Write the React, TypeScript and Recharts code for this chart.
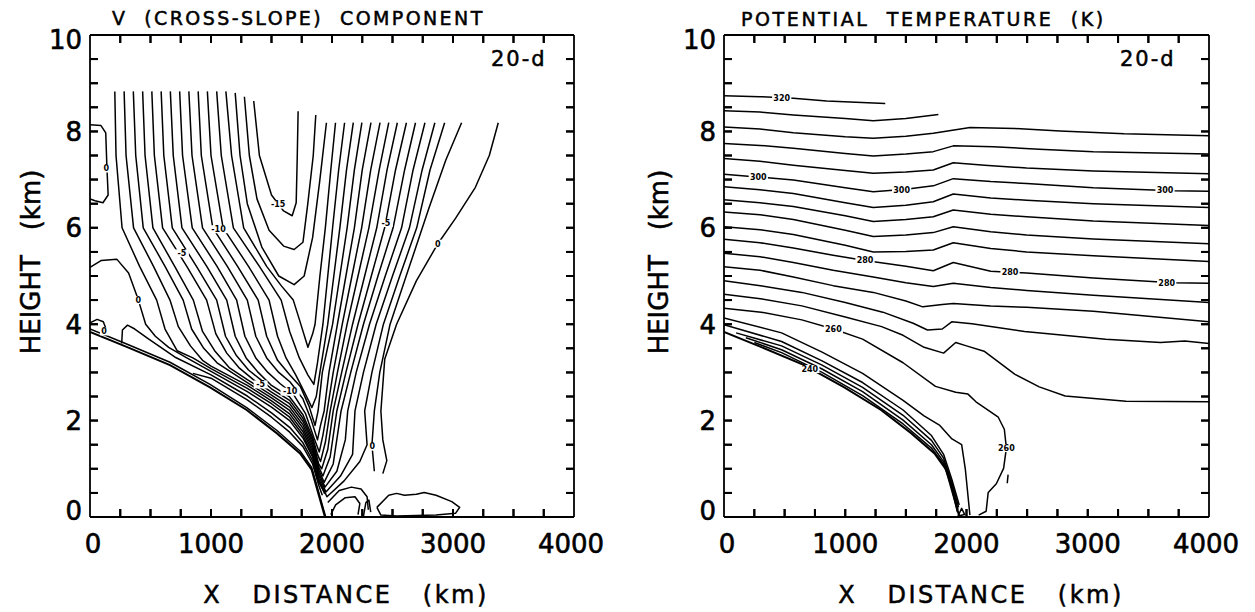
import React from 'react';
import { LineChart, Line, XAxis, YAxis, ReferenceDot } from 'recharts';

type Pt = [number, number];
type Lab = [number, number, string];

const FONT = '"DejaVu Sans", sans-serif';
const INK = '#000';

// axis values: ticks every 250 km / 0.5 km, labels every 1000 km / 2 km
const xTicks = [0, 250, 500, 750, 1000, 1250, 1500, 1750, 2000, 2250, 2500, 2750, 3000, 3250, 3500, 3750, 4000];
const yTicks = [0, 0.5, 1, 1.5, 2, 2.5, 3, 3.5, 4, 4.5, 5, 5.5, 6, 6.5, 7, 7.5, 8, 8.5, 9, 9.5, 10];
const xLabelEvery = 1000;
const yLabelEvery = 2;

// lower boundary (slope), same in both panels
const terrain: Pt[] = [[0, 3.84], [303, 3.53], [661, 3.15], [992, 2.69], [1295, 2.22], [1543, 1.74], [1736, 1.32], [1832, 0.98], [1887, 0.49], [1942, 0]];

// ---- V (cross-slope) component, contours ----
const vFan: Pt[][] = [
  [[205, 8.83], [215, 7.5], [265, 6.0], [410, 5.2], [551, 4.5], [620, 3.9], [720, 3.45], [850, 3.3], [1000, 3.08], [1300, 2.67], [1500, 2.35], [1650, 2.07], [1760, 1.7], [1840, 1.29], [1890, 0.8], [1958, 0.42], [2100, 0.75], [2230, 1.15], [2290, 1.5], [2270, 2.2], [2330, 3.0], [2425, 4.0], [2560, 5.0], [2700, 6.0], [2810, 7.2], [2931, 8.18]],
  [[282, 8.83], [298, 7.5], [360, 6.0], [525, 5.2], [661, 4.5], [730, 3.95], [830, 3.55], [930, 3.25], [1000, 3.13], [1300, 2.73], [1500, 2.41], [1650, 2.14], [1760, 1.77], [1840, 1.35], [1890, 0.86], [1950, 0.52], [2070, 0.85], [2170, 1.3], [2190, 2.2], [2260, 3.0], [2365, 4.0], [2500, 5.0], [2640, 6.0], [2745, 7.2], [2850, 8.18]],
  [[358, 8.83], [378, 7.5], [440, 6.0], [620, 5.2], [770, 4.5], [840, 3.9], [940, 3.5], [1050, 3.2], [1300, 2.79], [1500, 2.47], [1650, 2.21], [1760, 1.84], [1840, 1.41], [1890, 0.92], [1942, 0.62], [2040, 0.95], [2110, 1.6], [2130, 2.2], [2200, 3.0], [2310, 4.0], [2440, 5.0], [2575, 6.0], [2670, 7.2], [2768, 8.18]],
  [[435, 8.83], [455, 7.5], [520, 6.0], [700, 5.2], [854, 4.5], [930, 3.85], [1030, 3.45], [1150, 3.1], [1300, 2.85], [1500, 2.53], [1650, 2.28], [1760, 1.91], [1840, 1.47], [1890, 0.98], [1935, 0.72], [2010, 1.1], [2075, 2.2], [2155, 3.0], [2260, 4.0], [2380, 5.0], [2505, 6.0], [2600, 7.2], [2690, 8.18]],
  [[511, 8.83], [532, 7.5], [600, 6.0], [800, 5.2], [964, 4.5], [1040, 3.8], [1130, 3.4], [1230, 3.1], [1350, 2.85], [1500, 2.59], [1650, 2.35], [1760, 1.98], [1840, 1.53], [1890, 1.04], [1925, 0.85], [1985, 1.25], [2040, 2.2], [2115, 3.0], [2215, 4.0], [2325, 5.0], [2435, 6.0], [2525, 7.2], [2615, 8.18]],
  [[588, 8.83], [610, 7.5], [680, 6.0], [880, 5.2], [1047, 4.5], [1120, 3.75], [1210, 3.35], [1310, 3.05], [1410, 2.85], [1500, 2.66], [1650, 2.42], [1760, 2.05], [1840, 1.59], [1890, 1.1], [1915, 1.0], [1965, 1.4], [2010, 2.2], [2080, 3.0], [2170, 4.0], [2270, 5.0], [2370, 6.0], [2455, 7.2], [2540, 8.18]],
  [[664, 8.83], [688, 7.5], [760, 6.0], [965, 5.2], [1130, 4.5], [1200, 3.75], [1290, 3.3], [1390, 3.0], [1500, 2.73], [1650, 2.49], [1760, 2.12], [1840, 1.65], [1880, 1.3], [1905, 1.15], [1945, 1.55], [1985, 2.2], [2045, 3.0], [2125, 4.0], [2215, 5.0], [2305, 6.0], [2390, 7.2], [2469, 8.18]],
  [[741, 8.83], [765, 7.5], [845, 6.0], [1050, 5.2], [1212, 4.5], [1280, 3.75], [1370, 3.3], [1470, 3.0], [1570, 2.77], [1680, 2.55], [1780, 2.15], [1850, 1.65], [1895, 1.35], [1925, 1.7], [1960, 2.2], [2010, 3.0], [2085, 4.0], [2165, 5.0], [2245, 6.0], [2320, 7.2], [2397, 8.18]],
  [[817, 8.83], [843, 7.5], [930, 6.0], [1135, 5.2], [1300, 4.5], [1370, 3.75], [1460, 3.3], [1560, 3.0], [1654, 2.8], [1760, 2.45], [1830, 2.0], [1880, 1.6], [1905, 1.9], [1935, 2.2], [1975, 3.0], [2045, 4.0], [2115, 5.0], [2185, 6.0], [2250, 7.2], [2322, 8.18]],
  [[894, 8.83], [920, 7.5], [1015, 6.0], [1220, 5.2], [1390, 4.5], [1460, 3.75], [1550, 3.25], [1650, 2.95], [1740, 2.7], [1810, 2.3], [1860, 1.9], [1885, 2.2], [1920, 3.0], [2005, 4.0], [2065, 5.0], [2125, 6.0], [2185, 7.2], [2247, 8.18]],
  [[970, 8.83], [1000, 7.5], [1100, 6.0], [1310, 5.2], [1480, 4.5], [1550, 3.75], [1620, 3.3], [1700, 2.95], [1780, 2.55], [1834, 2.27], [1870, 2.5], [1900, 3.0], [1965, 4.0], [2015, 5.0], [2065, 6.0], [2120, 7.2], [2176, 8.18]],
  [[1047, 8.83], [1085, 7.5], [1185, 6.0], [1400, 5.2], [1580, 4.5], [1650, 3.85], [1730, 3.3], [1800, 2.95], [1850, 2.75], [1880, 3.2], [1925, 4.0], [1965, 5.0], [2005, 6.0], [2055, 7.2], [2104, 8.18]],
  [[1123, 8.83], [1170, 7.5], [1270, 6.0], [1460, 5.2], [1580, 4.8], [1680, 4.5], [1730, 4.1], [1801, 3.52], [1840, 3.8], [1860, 4.0], [1900, 5.0], [1945, 6.0], [1990, 7.2], [2029, 8.18]],
];

// closed-bottom (U shaped) contours around the upper minimum
const vCore: Pt[][] = [
  [[1200, 8.8], [1240, 7.5], [1300, 6.5], [1420, 5.6], [1560, 5.0], [1687, 4.82], [1770, 5.0], [1840, 5.8], [1900, 7.0], [1954, 8.18]],
  [[1276, 8.72], [1317, 7.5], [1380, 6.6], [1480, 5.95], [1600, 5.62], [1687, 5.55], [1760, 5.7], [1800, 6.5], [1845, 7.5], [1866, 8.34]],
  [[1353, 8.63], [1400, 7.5], [1500, 6.68], [1600, 6.35], [1671, 6.25], [1704, 6.52], [1713, 7.49], [1720, 8.42]],
];

// lines packed along the slope
const vSlopeJet: Pt[][] = [
  [[0, 3.9], [303, 3.59], [661, 3.21], [992, 2.75], [1295, 2.27], [1543, 1.8], [1736, 1.37], [1832, 1.03], [1887, 0.54], [1948, 0]],
  [[850, 2.98], [1000, 2.88], [1300, 2.43], [1500, 2.07], [1650, 1.76], [1760, 1.46], [1840, 1.1], [1890, 0.66], [1920, 0.45]],
  [[262, 3.6], [268, 3.88], [310, 3.98], [370, 3.9], [480, 3.7], [700, 3.32], [1000, 2.95], [1300, 2.51], [1500, 2.16], [1650, 1.86], [1760, 1.54], [1840, 1.17], [1890, 0.72], [1930, 0.55]],
  [[0, 5.18], [91, 5.32], [221, 5.35], [319, 5.06], [400, 4.5], [460, 4.0], [540, 3.75], [650, 3.52], [800, 3.3], [1000, 3.02], [1300, 2.6], [1500, 2.28], [1650, 2.0], [1760, 1.64], [1840, 1.24], [1890, 0.76], [1940, 0.48]],
];

// zero lines and small closed contours
const vOther: Pt[][] = [
  [[0, 8.14], [91, 8.12], [130, 7.97], [140, 7.24], [150, 6.68], [107, 6.52], [42, 6.56], [0, 6.6]],
  [[0, 4.03], [59, 4.1], [110, 4.05], [130, 3.92], [125, 3.78]],
  [[2420, 0.9], [2453, 1.17], [2420, 1.6], [2404, 2.2], [2436, 3.28], [2534, 4.0], [2697, 4.9], [2875, 5.67], [3022, 6.2], [3185, 6.84], [3300, 7.5], [3374, 8.18]],
  [[2350, 0.95], [2330, 1.5], [2350, 2.2], [2395, 3.0], [2480, 4.0], [2640, 5.2], [2800, 6.4], [2940, 7.4], [3071, 8.18]],
  [[2371, 0.2], [2469, 0.45], [2534, 0.49], [2599, 0.45], [2697, 0.47], [2762, 0.51], [2860, 0.45], [2990, 0.32], [3055, 0.2], [3022, 0.08], [2860, 0.04], [2534, 0.02], [2404, 0.04], [2371, 0.2]],
  [[1990, 0.05], [2030, 0.25], [2110, 0.4], [2190, 0.42], [2230, 0.28], [2215, 0.05]],
  [[2260, 0.02], [2280, 0.3], [2305, 0.35], [2320, 0.1]],
  [[1965, 0.3], [2060, 0.55], [2160, 0.62], [2240, 0.58], [2290, 0.42], [2300, 0.15]],
];

const vLabels: Lab[] = [
  [134, 7.23, '0'], [400, 4.5, '0'], [117, 3.85, '0'], [760, 5.47, '-5'], [1062, 5.97, '-10'], [1555, 6.48, '-15'],
  [2445, 6.1, '-5'], [2875, 5.67, '0'], [1410, 2.75, '-5'], [1654, 2.6, '-10'], [2332, 1.46, '0'],
];

// ---- potential temperature (K) ----
const thetaUpper: Pt[][] = [
  [[0, 8.74], [297, 8.72], [572, 8.69], [847, 8.63], [1330, 8.58]],
  [[0, 8.43], [297, 8.4], [572, 8.34], [1000, 8.27], [1231, 8.22], [1500, 8.27], [1768, 8.35]],
  [[0, 8.09], [297, 8.05], [572, 7.97], [1000, 7.89], [1231, 7.86], [1500, 7.9], [1726, 7.96], [2029, 8.08], [2400, 8.06], [2771, 8.01], [3300, 7.95], [4000, 7.91]],
  [[0, 7.75], [297, 7.71], [572, 7.65], [1000, 7.54], [1231, 7.49], [1500, 7.53], [1726, 7.58], [1891, 7.7], [2221, 7.68], [2600, 7.63], [3046, 7.58], [4000, 7.53]],
  [[0, 7.44], [297, 7.38], [572, 7.3], [1000, 7.19], [1231, 7.13], [1500, 7.16], [1726, 7.2], [1891, 7.35], [2150, 7.3], [2496, 7.24], [3046, 7.18], [4000, 7.12]],
  [[0, 7.11], [297, 7.05], [572, 6.99], [1000, 6.83], [1231, 6.75], [1500, 6.8], [1726, 6.87], [1891, 7.02], [2200, 6.96], [2496, 6.92], [3046, 6.83], [3700, 6.77], [4000, 6.76]],
  [[0, 6.85], [297, 6.79], [572, 6.71], [1000, 6.52], [1231, 6.42], [1500, 6.47], [1726, 6.54], [1891, 6.7], [2200, 6.62], [2496, 6.57], [3046, 6.5], [4000, 6.42]],
  [[0, 6.58], [297, 6.52], [572, 6.44], [1000, 6.25], [1231, 6.13], [1500, 6.17], [1726, 6.23], [1891, 6.37], [2200, 6.28], [2496, 6.23], [3046, 6.14], [4000, 6.05]],
  [[0, 6.33], [297, 6.27], [572, 6.17], [1000, 5.95], [1231, 5.82], [1500, 5.85], [1726, 5.9], [1891, 6.02], [2200, 5.92], [2496, 5.85], [3046, 5.77], [4000, 5.67]],
  [[0, 6.02], [297, 5.96], [572, 5.86], [1000, 5.64], [1231, 5.5], [1500, 5.51], [1726, 5.54], [1891, 5.69], [2200, 5.57], [2496, 5.5], [3046, 5.42], [4000, 5.3]],
  [[0, 5.76], [297, 5.69], [572, 5.58], [900, 5.43], [1163, 5.32], [1500, 5.2], [1726, 5.11], [1891, 5.28], [2200, 5.1], [2496, 5.06], [3046, 4.96], [3700, 4.86], [4000, 4.85]],
  [[0, 5.47], [297, 5.4], [572, 5.28], [900, 5.12], [1231, 4.98], [1500, 4.86], [1726, 4.78], [1891, 4.85], [2200, 4.76], [2496, 4.7], [3046, 4.6], [4000, 4.45]],
  [[0, 5.19], [297, 5.12], [572, 4.98], [900, 4.8], [1231, 4.66], [1500, 4.48], [1640, 4.36], [1800, 4.41], [1891, 4.43], [2200, 4.38], [2496, 4.35], [3046, 4.27], [4000, 4.05]],
  [[0, 4.9], [300, 4.8], [642, 4.66], [1000, 4.45], [1310, 4.25], [1560, 4.02], [1678, 3.88], [1800, 3.9], [1878, 4.05], [2045, 4.01], [2479, 3.85], [3148, 3.69], [3600, 3.62], [3800, 3.65], [4000, 3.6]],
  [[0, 4.62], [300, 4.53], [642, 4.38], [1000, 4.15], [1300, 3.95], [1477, 3.77], [1650, 3.52], [1811, 3.4], [1911, 3.62], [2000, 3.55], [2145, 3.44], [2400, 2.96], [2600, 2.7], [2814, 2.51], [3315, 2.4], [4000, 2.39]],
  [[0, 4.33], [307, 4.25], [642, 4.09], [902, 3.9], [1143, 3.69], [1477, 3.2], [1744, 2.71], [1911, 2.59], [2012, 2.55], [2078, 2.39], [2262, 2.07], [2312, 1.82], [2329, 1.43], [2306, 1.01], [2246, 0.69], [2179, 0.51], [2162, 0.12], [2100, 0.04]],
];

const thetaSlope: Pt[][] = [
  [[0, 4.13], [475, 3.82], [809, 3.42], [1143, 2.98], [1477, 2.42], [1650, 2.1], [1780, 1.9], [1880, 1.62], [1960, 1.5], [1990, 1.0], [2028, 0.04]],
  [[0, 3.99], [475, 3.64], [809, 3.24], [1143, 2.79], [1477, 2.22], [1711, 1.69], [1811, 1.3], [1878, 0.79], [1940, 0.25]],
  [[100, 3.82], [475, 3.55], [809, 3.15], [1143, 2.69], [1477, 2.11], [1711, 1.59], [1811, 1.22], [1878, 0.72], [1935, 0.2]],
  [[180, 3.72], [475, 3.47], [809, 3.07], [1143, 2.6], [1477, 2.01], [1711, 1.5], [1811, 1.15], [1878, 0.67], [1930, 0.15]],
  [[250, 3.62], [475, 3.41], [809, 3.0], [1143, 2.52], [1477, 1.93], [1711, 1.43], [1811, 1.1], [1878, 0.62], [1925, 0.1]],
  [[1930, 0.02], [1960, 0.18], [1985, 0.05], [1930, 0.02]],
  [[2336, 0.7], [2343, 0.88]],
];

const thetaLabels: Lab[] = [
  [476, 8.69, '320'], [283, 7.05, '300'], [1465, 6.79, '300'], [3637, 6.77, '300'],
  [1163, 5.32, '280'], [2359, 5.07, '280'], [3651, 4.86, '280'],
  [902, 3.9, '260'], [708, 3.07, '240'], [2329, 1.43, '260'],
];

// plot frame layout (pixels) shared by chart margins and the frame tick overlay
const PLOT_TOP = 35;
const PLOT_BOTTOM = 517;
const PANELS = [
  { left: 0, width: 620, plotLeft: 90 },
  { left: 620, width: 635, plotLeft: 724 },
];
const RIGHT_GAP = 46;
const TICK_PX = 8;
// the same tick length in data units, for the in-chart tick series
const TICK_DX = 66;
const TICK_DY = 0.166;

const frameLine = { stroke: INK, strokeWidth: 1.8 };

const toRows = (pts: Pt[]) => pts.map(([x, y]) => ({ x, y }));

// each frame tick as a two-point segment, built from the tick value arrays
const tickSegments: Pt[][] = [
  ...xTicks.slice(1, -1).map((v): Pt[] => [[v, 0], [v, TICK_DY]]),
  ...xTicks.slice(1, -1).map((v): Pt[] => [[v, 10], [v, 10 - TICK_DY]]),
  ...yTicks.slice(1, -1).map((v): Pt[] => [[0, v], [TICK_DX, v]]),
  ...yTicks.slice(1, -1).map((v): Pt[] => [[4000, v], [4000 - TICK_DX, v]]),
];

const XTick = (props: any) => {
  const { x, y, payload } = props;
  const v = payload.value;
  if (v % xLabelEvery !== 0) return <g />;
  const dx = v === 0 ? 3 : v === 4000 ? -3 : 0;
  return (
    <text x={x + dx} y={y} dy="0.71em" textAnchor="middle" fontFamily={FONT} fontSize={26} fill={INK} stroke={INK} strokeWidth={0.6}>
      {v}
    </text>
  );
};

const YTick = (props: any) => {
  const { x, y, payload } = props;
  const v = payload.value;
  if (v % yLabelEvery !== 0) return <g />;
  const dy = v === 10 ? 5 : v === 0 ? -6 : 0;
  return (
    <text x={x} y={y + dy} dy="0.36em" textAnchor="end" fontFamily={FONT} fontSize={26} fill={INK} stroke={INK} strokeWidth={0.6}>
      {v}
    </text>
  );
};

const EmptyTick = () => <g />;

const ContourLabel = ({ cx, cy, text }: { cx: number; cy: number; text: string }) => {
  const w = text.length * 5.4 + 3;
  return (
    <g>
      <rect x={cx - w / 2} y={cy - 4} width={w} height={8} fill="#fff" />
      <text x={cx} y={cy} dy="0.35em" textAnchor="middle" fontFamily={FONT} fontSize={8} fontWeight="bold" fill={INK}>
        {text}
      </text>
    </g>
  );
};

function Panel({ left, width, plotLeft, lines, labels }: { left: number; width: number; plotLeft: number; lines: Pt[][]; labels: Lab[] }) {
  return (
    <div style={{ position: 'absolute', left, top: 0 }}>
      <LineChart width={width} height={612} margin={{ top: PLOT_TOP - 10, right: RIGHT_GAP - 10, bottom: 40, left: plotLeft - left - 60 }}>
        <XAxis
          type="number"
          dataKey="x"
          domain={[0, 4000]}
          allowDataOverflow
          ticks={xTicks}
          interval={0}
          height={55}
          tickLine={false}
          tickSize={6}
          tickMargin={12}
          axisLine={frameLine}
          tick={<XTick />}
        />
        <XAxis
          xAxisId="top"
          orientation="top"
          type="number"
          dataKey="x"
          domain={[0, 4000]}
          allowDataOverflow
          ticks={xTicks}
          height={10}
          tickLine={false}
          axisLine={frameLine}
          tick={<EmptyTick />}
        />
        <YAxis
          type="number"
          domain={[0, 10]}
          allowDataOverflow
          ticks={yTicks}
          interval={0}
          width={60}
          tickLine={false}
          tickSize={4}
          tickMargin={4}
          axisLine={frameLine}
          tick={<YTick />}
        />
        <YAxis
          yAxisId="right"
          orientation="right"
          type="number"
          domain={[0, 10]}
          allowDataOverflow
          ticks={yTicks}
          width={10}
          tickLine={false}
          axisLine={frameLine}
          tick={<EmptyTick />}
        />
        {tickSegments.map((seg, i) => (
          <Line
            key={'t' + i}
            data={toRows(seg)}
            dataKey="y"
            type="linear"
            stroke={INK}
            strokeWidth={2}
            dot={false}
            activeDot={false}
            legendType="none"
            isAnimationActive={false}
          />
        ))}
        <Line
          data={toRows(terrain)}
          dataKey="y"
          type="linear"
          stroke={INK}
          strokeWidth={2}
          dot={false}
          activeDot={false}
          legendType="none"
          isAnimationActive={false}
        />
        {lines.map((pts, i) => (
          <Line
            key={'c' + i}
            data={toRows(pts)}
            dataKey="y"
            type="linear"
            stroke={INK}
            strokeWidth={1.5}
            strokeLinejoin="round"
            dot={false}
            activeDot={false}
            legendType="none"
            isAnimationActive={false}
          />
        ))}
        {labels.map(([x, y, t], i) => (
          <ReferenceDot
            key={'l' + i}
            x={x}
            y={y}
            r={0}
            shape={(p: any) => <ContourLabel cx={p.cx} cy={p.cy} text={t} />}
          />
        ))}
      </LineChart>
    </div>
  );
}

// inward frame ticks on all four sides, placed from the tick value arrays
function FrameTicks({ plotLeft, plotRight }: { plotLeft: number; plotRight: number }) {
  const sx = (v: number) => plotLeft + (v / 4000) * (plotRight - plotLeft);
  const sy = (v: number) => PLOT_BOTTOM - (v / 10) * (PLOT_BOTTOM - PLOT_TOP);
  const d: string[] = [];
  xTicks.slice(1, -1).forEach((v) => {
    d.push(`M${sx(v)},${PLOT_BOTTOM}v${-TICK_PX}`);
    d.push(`M${sx(v)},${PLOT_TOP}v${TICK_PX}`);
  });
  yTicks.slice(1, -1).forEach((v) => {
    d.push(`M${plotLeft},${sy(v)}h${TICK_PX}`);
    d.push(`M${plotRight},${sy(v)}h${-TICK_PX}`);
  });
  return <path d={d.join(' ')} fill="none" stroke="#000" strokeWidth={2} />;
}

export default function App() {
  const txt = { fontFamily: FONT, fill: INK, stroke: INK, strokeWidth: 0.5 } as const;
  const pre = { whiteSpace: 'pre' } as const;
  return (
    <div style={{ position: 'absolute', left: 0, top: 0, width: 1255, height: 612, background: '#fff' }}>
      <Panel {...PANELS[0]} lines={[...vFan, ...vCore, ...vSlopeJet, ...vOther]} labels={vLabels} />
      <Panel {...PANELS[1]} lines={[...thetaUpper, ...thetaSlope]} labels={thetaLabels} />
      <svg width={1255} height={612} style={{ position: 'absolute', left: 0, top: 0, pointerEvents: 'none', zIndex: 5 }}>
        {PANELS.map((p) => (
          <FrameTicks key={'ft' + p.left} plotLeft={p.plotLeft} plotRight={p.left + p.width - RIGHT_GAP} />
        ))}
        <text x={112} y={25} fontSize={19} letterSpacing={2.4} xmlSpace="preserve" style={pre} {...txt}>
          V  (CROSS-SLOPE)  COMPONENT
        </text>
        <text x={741} y={26} fontSize={19} letterSpacing={2.6} xmlSpace="preserve" style={pre} {...txt}>
          POTENTIAL  TEMPERATURE  (K)
        </text>
        <text x={491} y={66} fontSize={21} letterSpacing={2} {...txt}>20-d</text>
        <text x={1120} y={66} fontSize={21} letterSpacing={2} {...txt}>20-d</text>
        <text x={346} y={603} fontSize={24} letterSpacing={2.5} textAnchor="middle" xmlSpace="preserve" style={pre} {...txt}>
          X   DISTANCE   (km)
        </text>
        <text x={981} y={603} fontSize={24} letterSpacing={2.5} textAnchor="middle" xmlSpace="preserve" style={pre} {...txt}>
          X   DISTANCE   (km)
        </text>
        <text x={40} y={262} fontSize={26} textAnchor="middle" transform="rotate(-90 40 262)" xmlSpace="preserve" style={pre} {...txt}>
          HEIGHT   (km)
        </text>
        <text x={668} y={262} fontSize={26} textAnchor="middle" transform="rotate(-90 668 262)" xmlSpace="preserve" style={pre} {...txt}>
          HEIGHT   (km)
        </text>
      </svg>
    </div>
  );
}
